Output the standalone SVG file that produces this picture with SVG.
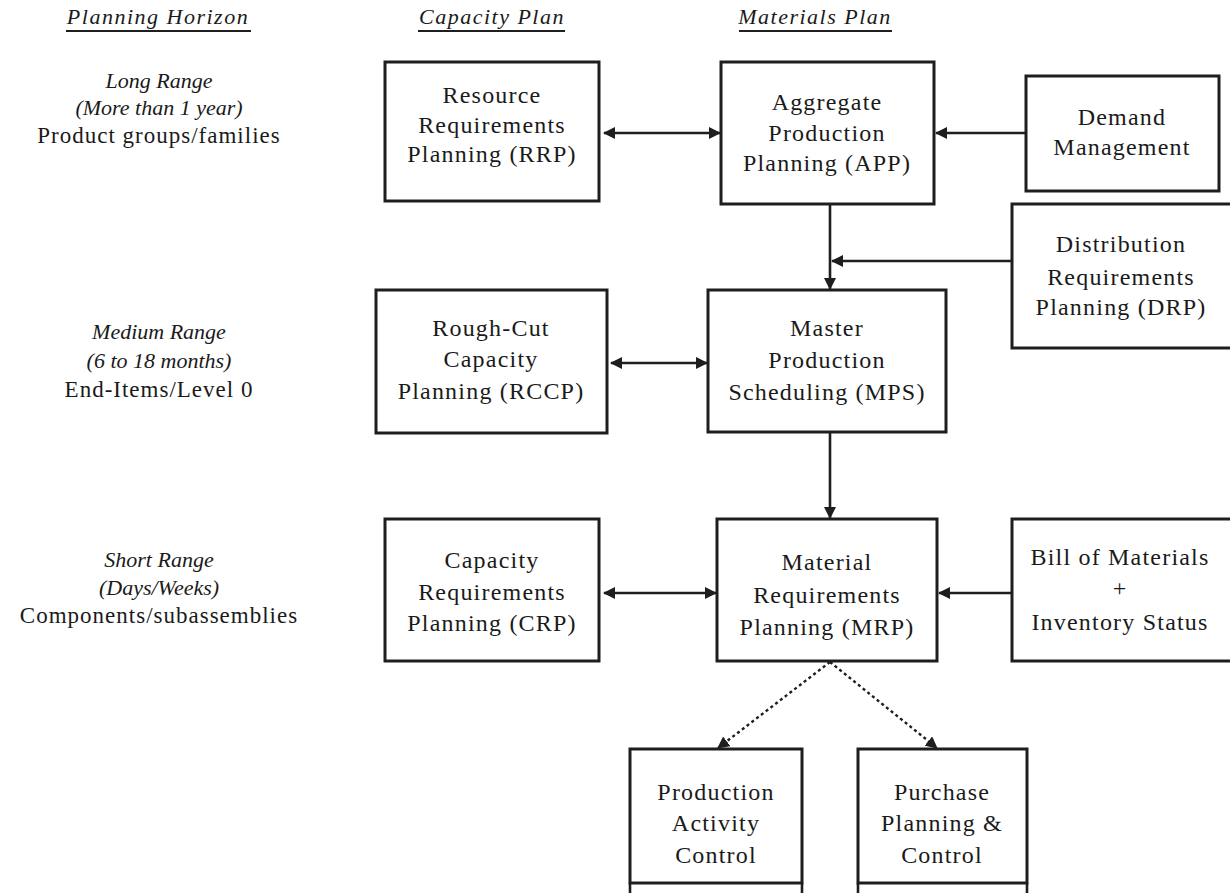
<svg xmlns="http://www.w3.org/2000/svg" width="1230" height="893" viewBox="0 0 1230 893">
<defs>
<style>
.bg{fill:#ffffff}
.box{fill:#ffffff;stroke:#1e1e1e;stroke-width:3}
.ln{fill:none;stroke:#1e1e1e;stroke-width:2.6}
.dot{fill:none;stroke:#1e1e1e;stroke-width:2.4;stroke-dasharray:3 3}
.t{font-family:"Liberation Serif","Times New Roman",serif;font-size:24px;fill:#1a1a1a;text-anchor:middle;letter-spacing:1.2px}
.l{font-family:"Liberation Serif","Times New Roman",serif;font-size:23px;fill:#1a1a1a;text-anchor:middle;letter-spacing:1px}
.i{font-family:"Liberation Serif","Times New Roman",serif;font-size:22px;font-style:italic;fill:#1a1a1a;text-anchor:middle}
.h{font-family:"Liberation Serif","Times New Roman",serif;font-size:22px;font-style:italic;fill:#1a1a1a;text-anchor:middle;letter-spacing:1.5px}
.u{stroke:#1e1e1e;stroke-width:2.2}
</style>
<marker id="ah" viewBox="0 0 12 12" refX="11" refY="6" markerWidth="12" markerHeight="12" markerUnits="userSpaceOnUse" orient="auto-start-reverse">
<path d="M0,0 L12,6 L0,12 z" fill="#1e1e1e"/>
</marker>
</defs>
<rect class="bg" x="0" y="0" width="1230" height="893"/>

<g id="headers">
<text class="h" x="158" y="24">Planning Horizon</text>
<line class="u" x1="66" y1="31" x2="251" y2="31"/>
<text class="h" x="492" y="24">Capacity Plan</text>
<line class="u" x1="418" y1="31" x2="565" y2="31"/>
<text class="h" x="815" y="24">Materials Plan</text>
<line class="u" x1="739" y1="31" x2="892" y2="31"/>
</g>

<g id="horizon-long">
<text class="i" x="159" y="88">Long Range</text>
<text class="i" x="159" y="115">(More than 1 year)</text>
<text class="l" x="159" y="143">Product groups/families</text>
</g>
<g id="horizon-medium">
<text class="i" x="159" y="339">Medium Range</text>
<text class="i" x="159" y="368">(6 to 18 months)</text>
<text class="l" x="159" y="397">End-Items/Level 0</text>
</g>
<g id="horizon-short">
<text class="i" x="159" y="567">Short Range</text>
<text class="i" x="159" y="595">(Days/Weeks)</text>
<text class="l" x="159" y="623">Components/subassemblies</text>
</g>

<g id="connectors">
<line class="ln" x1="604" y1="133" x2="720" y2="133" marker-start="url(#ah)" marker-end="url(#ah)"/>
<line class="ln" x1="1026" y1="133" x2="936" y2="133" marker-end="url(#ah)"/>
<line class="ln" x1="830" y1="204" x2="830" y2="289" marker-end="url(#ah)"/>
<line class="ln" x1="1012" y1="261" x2="832" y2="261" marker-end="url(#ah)"/>
<line class="ln" x1="611" y1="363" x2="707" y2="363" marker-start="url(#ah)" marker-end="url(#ah)"/>
<line class="ln" x1="830" y1="432" x2="830" y2="518" marker-end="url(#ah)"/>
<line class="ln" x1="604" y1="593" x2="716" y2="593" marker-start="url(#ah)" marker-end="url(#ah)"/>
<line class="ln" x1="1012" y1="593" x2="939" y2="593" marker-end="url(#ah)"/>
<line class="dot" x1="830" y1="662" x2="718" y2="748" marker-end="url(#ah)"/>
<line class="dot" x1="830" y1="662" x2="937" y2="748" marker-end="url(#ah)"/>
</g>

<g id="rrp">
<rect class="box" x="385" y="62" width="214" height="139"/>
<text class="t" x="492" y="103">Resource</text>
<text class="t" x="492" y="133">Requirements</text>
<text class="t" x="492" y="162">Planning (RRP)</text>
</g>
<g id="app">
<rect class="box" x="721" y="62" width="213" height="142"/>
<text class="t" x="827" y="110">Aggregate</text>
<text class="t" x="827" y="141">Production</text>
<text class="t" x="827" y="171">Planning (APP)</text>
</g>
<g id="demand">
<rect class="box" x="1026" y="76" width="193" height="115"/>
<text class="t" x="1122" y="125">Demand</text>
<text class="t" x="1122" y="155">Management</text>
</g>
<g id="drp">
<rect class="box" x="1012" y="204" width="224" height="144"/>
<text class="t" x="1121" y="252">Distribution</text>
<text class="t" x="1121" y="285">Requirements</text>
<text class="t" x="1121" y="315">Planning (DRP)</text>
</g>
<g id="rccp">
<rect class="box" x="376" y="290" width="231" height="143"/>
<text class="t" x="491" y="336">Rough-Cut</text>
<text class="t" x="491" y="367">Capacity</text>
<text class="t" x="491" y="399">Planning (RCCP)</text>
</g>
<g id="mps">
<rect class="box" x="708" y="290" width="238" height="142"/>
<text class="t" x="827" y="336">Master</text>
<text class="t" x="827" y="368">Production</text>
<text class="t" x="827" y="400">Scheduling (MPS)</text>
</g>
<g id="crp">
<rect class="box" x="385" y="519" width="214" height="142"/>
<text class="t" x="492" y="568">Capacity</text>
<text class="t" x="492" y="600">Requirements</text>
<text class="t" x="492" y="631">Planning (CRP)</text>
</g>
<g id="mrp">
<rect class="box" x="717" y="519" width="220" height="142"/>
<text class="t" x="827" y="570">Material</text>
<text class="t" x="827" y="603">Requirements</text>
<text class="t" x="827" y="635">Planning (MRP)</text>
</g>
<g id="bom">
<rect class="box" x="1012" y="519" width="224" height="142"/>
<text class="t" x="1120" y="565">Bill of Materials</text>
<text class="t" x="1120" y="596">+</text>
<text class="t" x="1120" y="630">Inventory Status</text>
</g>
<g id="pac">
<rect class="box" x="630" y="749" width="172" height="134"/>
<line class="ln" x1="630" y1="883" x2="630" y2="893"/>
<line class="ln" x1="802" y1="883" x2="802" y2="893"/>
<text class="t" x="716" y="800">Production</text>
<text class="t" x="716" y="831">Activity</text>
<text class="t" x="716" y="863">Control</text>
</g>
<g id="ppc">
<rect class="box" x="858" y="749" width="169" height="134"/>
<line class="ln" x1="858" y1="883" x2="858" y2="893"/>
<line class="ln" x1="1027" y1="883" x2="1027" y2="893"/>
<text class="t" x="942" y="800">Purchase</text>
<text class="t" x="942" y="831">Planning &amp;</text>
<text class="t" x="942" y="863">Control</text>
</g>
</svg>
